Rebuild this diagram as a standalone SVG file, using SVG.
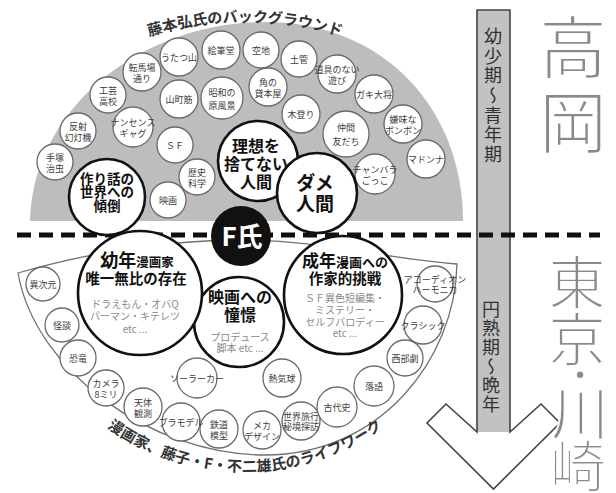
<svg xmlns="http://www.w3.org/2000/svg" width="616" height="493" viewBox="0 0 616 493">
<style>
text { font-family: "Noto Sans CJK JP", "Noto Sans CJK SC", sans-serif; text-anchor: middle; }
.sc { fill:#fff; stroke:#6a6a6a; stroke-width:1.3; }
.st { font-size:9px; fill:#3c3c3c; dominant-baseline:central; }
.bc { fill:#fff; stroke:#111; stroke-width:2.6; }
.bt { font-weight:bold; fill:#111; }
.gt { font-size:10px; fill:#8a8a8a; }
.big { fill:#8a8a8a; stroke:#fff; stroke-width:2; dominant-baseline:central; }
.vt { font-size:18px; fill:#333; writing-mode:vertical-rl; text-anchor:start; }
.arc { font-size:15px; font-weight:bold; fill:#333; }
</style>
<defs>
<path id="arcTop" d="M100,55.6 A330,330 0 0 1 390,55.6"/>
<path id="arcBot" d="M68,392 A236,236 0 0 0 422,392"/>
</defs>

<!-- top background fan -->
<path id="fan" d="M30,221 C32,110 140,22 265,22 C385,22 463,110 463,221 Z" fill="#bdbdbd"/>
<text class="arc"><textPath href="#arcTop" startOffset="50%">藤本弘氏のバックグラウンド</textPath></text>

<!-- bottom region outline -->
<path id="life" d="M18,273 C90,252 170,240 241,240 C320,240 380,258 457,264 C455,360 380,455 265,455 C150,455 35,370 18,273 Z" fill="#fff" stroke="#707070" stroke-width="1.3"/>
<text class="arc"><textPath href="#arcBot" startOffset="50%">漫画家、藤子・F・不二雄氏のライフワーク</textPath></text>

<!-- arrow -->
<g id="arrow">
<rect x="477" y="10" width="33" height="422" fill="#c2c2c2"/>
<path d="M477,10 L510,10 L510,432 L541,404 L560,423 L493.5,489 L427,423 L446,404 L477,432 Z" fill="none" stroke="#444" stroke-width="1.6"/>
<text class="vt" x="493" y="27" letter-spacing="1.7">幼少期〜青年期</text>
<text class="vt" x="491" y="300" letter-spacing="1">円熟期〜晩年</text>
</g>

<!-- place names -->
<g id="places">
<text class="big" x="573" y="43" font-size="68">高</text>
<text class="big" x="573" y="118" font-size="68">岡</text>
<text class="big" x="577" y="279" font-size="58" stroke-width="1.7">東</text>
<text class="big" x="577" y="336" font-size="58" stroke-width="1.7">京</text>
<text class="big" x="580" y="373" font-size="40" stroke-width="1.7">・</text>
<text class="big" x="580" y="410" font-size="58" stroke-width="1.7">川</text>
<text class="big" x="578" y="462" font-size="56" stroke-width="1.7">崎</text>
</g>

<!-- dashed divider -->
<line x1="17" y1="235" x2="600" y2="235" stroke="#111" stroke-width="5" stroke-dasharray="14 8"/>

<!-- top small circles -->
<g id="t-tezuka"><circle class="sc" cx="55" cy="162" r="18"/><text class="st" font-size="8.5"><tspan x="55" y="156.5">手塚</tspan><tspan x="55" y="167.5">治虫</tspan></text></g>
<g id="t-gentoki"><circle class="sc" cx="78" cy="131" r="18"/><text class="st" font-size="8.5"><tspan x="78" y="125.5">反射</tspan><tspan x="78" y="136.5">幻灯機</tspan></text></g>
<g id="t-kogei"><circle class="sc" cx="108" cy="95" r="18"/><text class="st" font-size="8.5"><tspan x="108" y="89.5">工芸</tspan><tspan x="108" y="100.5">高校</tspan></text></g>
<g id="t-dori"><circle class="sc" cx="142" cy="72" r="19"/><text class="st" font-size="8.5"><tspan x="142" y="66.5">転馬場</tspan><tspan x="142" y="77.5">通り</tspan></text></g>
<g id="t-utatsu"><circle class="sc" cx="179" cy="57" r="19"/><text class="st" x="179" y="57" font-size="8.5">うたつ山</text></g>
<g id="t-ehitsu"><circle class="sc" cx="221" cy="50" r="19"/><text class="st" x="221" y="50" font-size="8.5">絵筆堂</text></g>
<g id="t-akichi"><circle class="sc" cx="261" cy="50" r="18"/><text class="st" x="261" y="50">空地</text></g>
<g id="t-dokan"><circle class="sc" cx="299" cy="59" r="18"/><text class="st" x="299" y="59">土管</text></g>
<g id="t-dogu"><circle class="sc" cx="337" cy="74" r="19"/><text class="st" font-size="8"><tspan x="337" y="68.5">道具のない</tspan><tspan x="337" y="79.5">遊び</tspan></text></g>
<g id="t-gaki"><circle class="sc" cx="374" cy="94" r="19"/><text class="st" x="374" y="94" font-size="8.5">ガキ大将</text></g>
<g id="t-bonbon"><circle class="sc" cx="403" cy="124" r="19"/><text class="st" font-size="8"><tspan x="403" y="118.5">嫌味な</tspan><tspan x="403" y="129.5">ボンボン</tspan></text></g>
<g id="t-madonna"><circle class="sc" cx="426" cy="159" r="19"/><text class="st" x="426" y="159" font-size="8">マドンナ</text></g>
<g id="t-chanbara"><circle class="sc" cx="375" cy="174" r="20"/><text class="st" font-size="8"><tspan x="375" y="168.5">チャンバラ</tspan><tspan x="375" y="179.5">ごっこ</tspan></text></g>
<g id="t-nakama"><circle class="sc" cx="346" cy="134" r="23"/><text class="st" font-size="11.5"><tspan x="346" y="127">仲間</tspan><tspan x="346" y="141">友だち</tspan></text></g>
<g id="t-kinobori"><circle class="sc" cx="301" cy="114" r="19"/><text class="st" x="301" y="114" font-size="8.5">木登り</text></g>
<g id="t-kado"><circle class="sc" cx="268" cy="87" r="19"/><text class="st" font-size="8.5"><tspan x="268" y="81.5">角の</tspan><tspan x="268" y="92.5">貸本屋</tspan></text></g>
<g id="t-showa"><circle class="sc" cx="222" cy="98" r="21"/><text class="st" font-size="10"><tspan x="222" y="91.5">昭和の</tspan><tspan x="222" y="104.5">原風景</tspan></text></g>
<g id="t-yamacho"><circle class="sc" cx="179" cy="99" r="19"/><text class="st" x="179" y="99">山町筋</text></g>
<g id="t-nonsense"><circle class="sc" cx="133" cy="127" r="20"/><text class="st" font-size="8.5"><tspan x="133" y="121.5">ナンセンス</tspan><tspan x="133" y="132.5">ギャグ</tspan></text></g>
<g id="t-sf"><circle class="sc" cx="175" cy="145" r="18"/><text class="st" x="175" y="145" font-size="10">ＳＦ</text></g>
<g id="t-eiga"><circle class="sc" cx="168" cy="200" r="18"/><text class="st" x="168" y="200">映画</text></g>
<g id="t-rekishi"><circle class="sc" cx="197" cy="177" r="18"/><text class="st"><tspan x="197" y="171.5">歴史</tspan><tspan x="197" y="182.5">科学</tspan></text></g>

<!-- top big circles -->
<g id="n-tsukuri"><circle class="bc" cx="107" cy="197" r="38"/><text class="bt" font-size="13.5"><tspan x="107" y="183.5">作り話の</tspan><tspan x="107" y="197">世界への</tspan><tspan x="107" y="210.5">傾倒</tspan></text></g>
<g id="n-riso"><circle class="bc" cx="258" cy="161" r="40"/><text class="bt" font-size="16"><tspan x="256" y="152">理想を</tspan><tspan x="256" y="170">捨てない</tspan><tspan x="256" y="188">人間</tspan></text></g>
<g id="n-dame"><circle class="bc" cx="317" cy="193" r="40"/><text class="bt" font-size="19"><tspan x="315" y="190">ダメ</tspan><tspan x="315" y="211">人間</tspan></text></g>

<!-- bottom small circles -->
<g id="b-ijigen"><circle class="sc" cx="43" cy="284" r="17"/><text class="st" x="43" y="284">異次元</text></g>
<g id="b-kaidan"><circle class="sc" cx="62" cy="325" r="17"/><text class="st" x="62" y="325">怪談</text></g>
<g id="b-kyoryu"><circle class="sc" cx="78" cy="358" r="18"/><text class="st" x="78" y="358">恐竜</text></g>
<g id="b-camera"><circle class="sc" cx="106" cy="388" r="18"/><text class="st" font-size="8.5"><tspan x="106" y="382.5">カメラ</tspan><tspan x="106" y="393.5">8ミリ</tspan></text></g>
<g id="b-tentai"><circle class="sc" cx="143" cy="407" r="19"/><text class="st"><tspan x="143" y="401.5">天体</tspan><tspan x="143" y="412.5">観測</tspan></text></g>
<g id="b-tetsudo"><circle class="sc" cx="219" cy="429" r="19"/><text class="st"><tspan x="219" y="423.5">鉄道</tspan><tspan x="219" y="434.5">模型</tspan></text></g>
<g id="b-plamo"><circle class="sc" cx="181" cy="422" r="19"/><text class="st" x="181" y="422" font-size="7.5">プラモデル</text></g>
<g id="b-solar"><circle class="sc" cx="197" cy="378" r="20"/><text class="st" x="197" y="378" font-size="9">ソーラーカー</text></g>
<g id="b-meka"><circle class="sc" cx="262" cy="430" r="19"/><text class="st" font-size="8"><tspan x="262" y="424.5">メカ</tspan><tspan x="262" y="435.5">デザイン</tspan></text></g>
<g id="b-sekai"><circle class="sc" cx="301" cy="421" r="19"/><text class="st" font-size="7.5"><tspan x="301" y="416">世界旅行</tspan><tspan x="301" y="426">秘境探訪</tspan></text></g>
<g id="b-kodai"><circle class="sc" cx="337" cy="407" r="20"/><text class="st" x="337" y="407">古代史</text></g>
<g id="b-rakugo"><circle class="sc" cx="374" cy="386" r="20"/><text class="st" x="374" y="386">落語</text></g>
<g id="b-seibu"><circle class="sc" cx="405" cy="358" r="18"/><text class="st" x="405" y="358">西部劇</text></g>
<g id="b-netsu"><circle class="sc" cx="282" cy="378" r="19"/><text class="st" x="282" y="378">熱気球</text></g>
<g id="b-classic"><circle class="sc" cx="423" cy="325" r="19"/><text class="st" x="423" y="325" font-size="8">クラシック</text></g>
<g id="b-accordion"><circle class="sc" cx="435" cy="284" r="18"/><text class="st" font-size="6.5"><tspan x="435" y="279">アコーディオン</tspan><tspan x="435" y="289">ハーモニカ</tspan></text></g>

<!-- bottom big circles -->
<g id="n-eiga"><circle class="bc" cx="239" cy="322" r="45"/><text class="bt" font-size="16"><tspan x="240" y="303">映画への</tspan><tspan x="240" y="321">憧憬</tspan></text><text class="gt"><tspan x="240" y="341">プロデュース</tspan><tspan x="240" y="352">脚本 etc ...</tspan></text></g>
<g id="n-yonen"><circle class="bc" cx="140" cy="293" r="62"/><text class="bt" x="137" y="266.5"><tspan font-size="18">幼年</tspan><tspan font-size="12.5">漫画家</tspan></text><text class="bt" x="136" y="284" font-size="14.5">唯一無比の存在</text><text class="gt"><tspan x="135" y="308">ドラえもん・オバQ</tspan><tspan x="135" y="320">パーマン・キテレツ</tspan><tspan x="135" y="333">etc ...</tspan></text></g>
<g id="n-seinen"><circle class="bc" cx="343" cy="295" r="59"/><text class="bt" x="345" y="267"><tspan font-size="17">成年</tspan><tspan font-size="13">漫画への</tspan></text><text class="bt" x="345" y="284" font-size="14.5">作家的挑戦</text><text class="gt"><tspan x="345" y="302">ＳＦ異色短編集・</tspan><tspan x="345" y="314">ミステリー・</tspan><tspan x="345" y="326">セルフパロディー</tspan><tspan x="345" y="337">etc ...</tspan></text></g>

<!-- center -->
<g id="n-f"><circle cx="241" cy="236" r="30" fill="#111"/><text x="242" y="245.5" font-size="26" font-weight="bold" fill="#fff">F氏</text></g>
</svg>
